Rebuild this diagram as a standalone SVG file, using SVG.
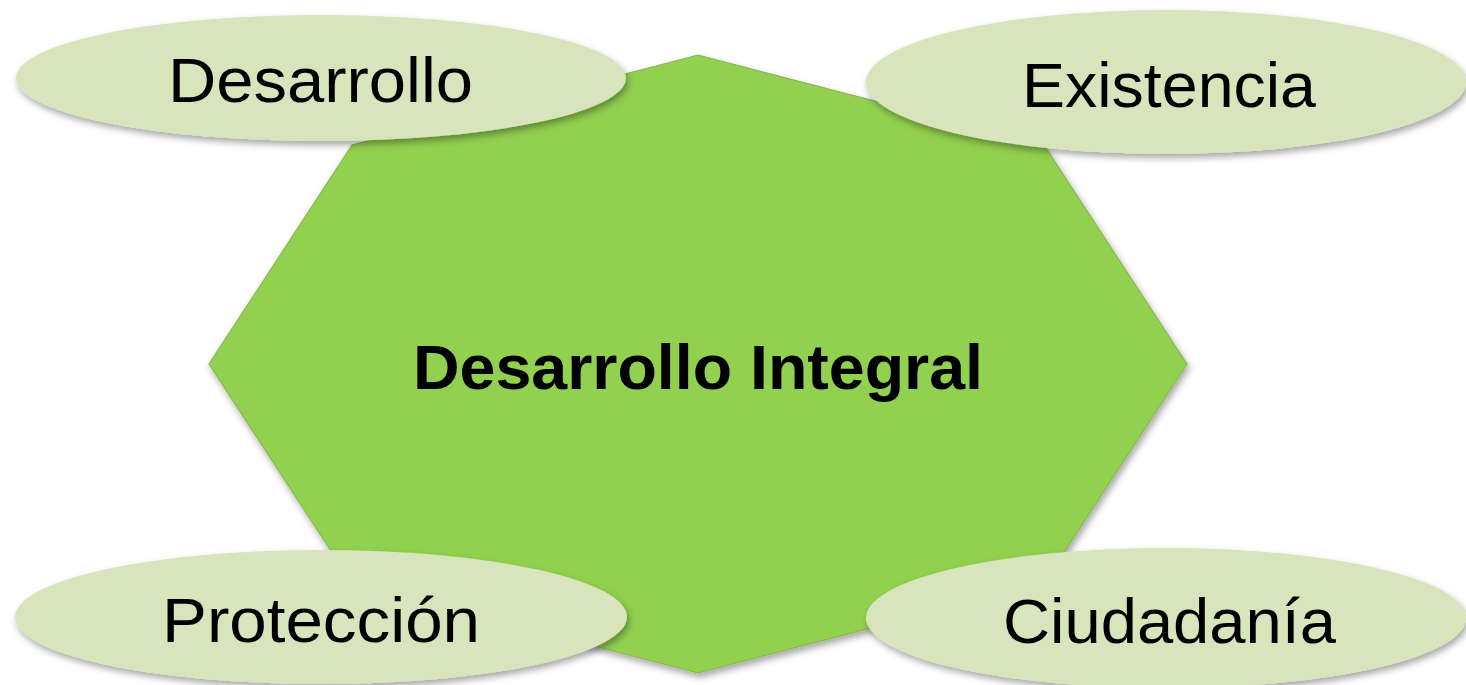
<svg xmlns="http://www.w3.org/2000/svg" width="1466" height="685" viewBox="0 0 1466 685">
  <defs>
    <filter id="shadow" x="-10%" y="-20%" width="120%" height="150%">
      <feDropShadow dx="2" dy="4" stdDeviation="3.5" flood-color="#000" flood-opacity="0.35"/>
    </filter>
    <style>
      .hub { fill: #92D050; stroke: #8AB850; stroke-width: 1.2; filter: url(#shadow); }
      .sat { fill: #D8E4BC; filter: url(#shadow); }
      .lbl { font-family: "Liberation Sans", Arial, sans-serif; font-size: 63px; fill: #000; text-anchor: middle; }
      .hubtxt { font-family: "Liberation Sans", Arial, sans-serif; font-size: 63px; font-weight: bold; fill: #000; text-anchor: middle; }
    </style>
  </defs>
  <rect width="1466" height="685" fill="#FFFFFF"/>
  <g id="connectors"></g>
  <g id="hub">
    <polygon class="hub" points="698,55 1044,145 1187,364 1044,583 698,673 352,583 209,364 352,145"/>
    <text class="hubtxt" x="698" y="389" textLength="570" lengthAdjust="spacingAndGlyphs">Desarrollo Integral</text>
  </g>
  <g id="node-desarrollo">
    <ellipse class="sat" cx="321" cy="78" rx="305" ry="63"/>
    <text class="lbl" x="320.5" y="102" textLength="305" lengthAdjust="spacingAndGlyphs">Desarrollo</text>
  </g>
  <g id="node-existencia">
    <ellipse class="sat" cx="1166" cy="82" rx="300" ry="72"/>
    <text class="lbl" x="1169" y="107" textLength="294" lengthAdjust="spacingAndGlyphs">Existencia</text>
  </g>
  <g id="node-proteccion">
    <ellipse class="sat" cx="321" cy="617" rx="306" ry="67"/>
    <text class="lbl" x="321" y="642" textLength="318" lengthAdjust="spacingAndGlyphs">Protección</text>
  </g>
  <g id="node-ciudadania">
    <ellipse class="sat" cx="1166" cy="618" rx="300" ry="70"/>
    <text class="lbl" x="1169.5" y="643" textLength="333" lengthAdjust="spacingAndGlyphs">Ciudadanía</text>
  </g>
</svg>
